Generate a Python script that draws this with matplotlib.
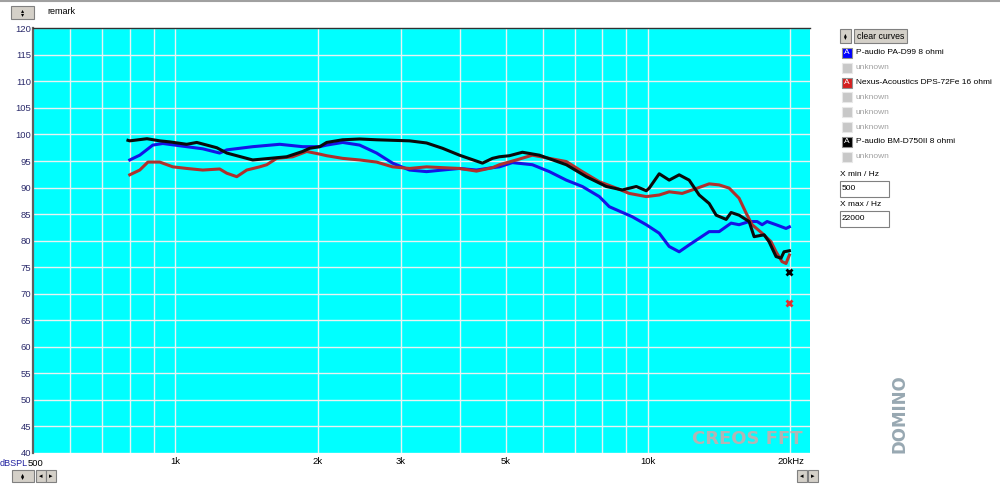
import matplotlib
matplotlib.use("Agg")
import matplotlib.pyplot as plt
from matplotlib.patches import Rectangle
from matplotlib.ticker import NullLocator

plt.rcParams['font.family'] = ['Liberation Sans', 'DejaVu Sans']

# P-audio PA-D99 8 ohm (blue)
pa_d99_hz = [801, 841, 896, 941, 1057, 1143, 1241, 1285, 1458, 1663, 1859, 2020,
             2090, 2259, 2454, 2665, 2881, 3129, 3399, 3674, 3990, 4335, 4686,
             4847, 5163, 5692, 6183, 6714, 7260, 7884, 8276, 9258, 9910, 10556,
             11082, 11634, 12214, 12824, 13463, 14133, 14982, 15573, 16356,
             17006, 17424, 17850, 18648, 19574, 19900]
pa_d99_db = [95.2, 96.1, 98.0, 98.3, 97.7, 97.3, 96.5, 97.1, 97.7, 98.15, 97.7, 97.7,
             98.0, 98.5, 98.0, 96.5, 94.6, 93.3, 93.0, 93.3, 93.6, 93.3, 93.75,
             93.9, 94.7, 94.3, 93.0, 91.4, 90.2, 88.3, 86.4, 84.5, 83.0, 81.4,
             78.9, 77.9, 79.2, 80.45, 81.7, 81.7, 83.3, 83.0, 83.6,
             83.6, 83.0, 83.6, 83.0, 82.3, 82.6]

# Nexus-Acoustics DPS-72Fe 16 ohm (red)
dps72_hz = [801, 841, 875, 927, 988, 1057, 1143, 1241, 1285, 1349, 1416, 1508,
            1561, 1638, 1771, 1896, 2020, 2090, 2259, 2454, 2665, 2881, 3129,
            3399, 3674, 3990, 4335, 4686, 4847, 5264, 5692, 6183, 6714, 7260,
            7884, 8563, 9119, 9910, 10556, 11082, 11806, 12394, 13463, 14133,
            14838, 15573, 16118, 16596, 17424, 18198, 18648, 19198, 19574, 19900]
dps72_db = [92.4, 93.3, 94.8, 94.8, 93.9, 93.6, 93.3, 93.5, 92.7, 92.05, 93.3, 93.9,
            94.3, 95.5, 95.8, 96.8, 96.3, 96.0, 95.5, 95.2, 94.8, 93.9, 93.6,
            93.9, 93.75, 93.6, 93.1, 93.75, 94.3, 95.2, 96.1, 95.5, 94.9, 93.0,
            91.1, 89.9, 88.9, 88.3, 88.6, 89.2, 88.9, 89.55, 90.7, 90.5,
            89.9, 88.0, 85.2, 83.0, 81.4, 79.8, 77.9, 76.05, 75.7, 77.3]

# P-audio BM-D750II 8 ohm (black)
bm_d750_hz = [794, 801, 871, 927, 974, 1057, 1110, 1166, 1224, 1285, 1349, 1458,
              1584, 1720, 1859, 1924, 2020, 2090, 2259, 2454, 2665, 3129, 3399,
              3674, 3990, 4463, 4686, 4847, 5088, 5422, 5889, 6714, 7402, 8159,
              8816, 9442, 9910, 10056, 10556, 11082, 11634, 12214, 12824, 13463,
              13929, 14625, 14982, 15573, 16356, 16758, 17595, 18023, 18648,
              19105, 19385, 19900]
bm_d750_db = [98.9, 98.8, 99.2, 98.8, 98.6, 98.15, 98.5, 98.0, 97.5, 96.5, 96.0, 95.2,
              95.5, 95.8, 96.8, 97.4, 97.7, 98.5, 99.0, 99.15, 99.0, 98.8, 98.4,
              97.4, 96.1, 94.6, 95.5, 95.8, 96.0, 96.65, 96.1, 94.3, 92.05, 90.2,
              89.55, 90.2, 89.4, 89.9, 92.6, 91.4, 92.4, 91.4, 88.6, 87.0,
              84.8, 84.0, 85.3, 84.8, 83.6, 80.75, 81.1, 79.8, 77.0,
              76.7, 77.9, 78.1]

# single-point markers at the right edge
marker_hz = 19900
black_marker_db = 74.1
red_marker_db = 68.3

x_ticks = [500, 1000, 2000, 3000, 5000, 10000, 20000]
x_tick_labels = ['500', '1k', '2k', '3k', '5k', '10k', '20kHz']
x_grid = [600, 700, 800, 900, 1000, 2000, 3000, 4000, 5000, 6000, 7000, 8000,
          9000, 10000, 20000]
y_ticks = list(range(40, 121, 5))

legend_rows = [('P-audio PA-D99 8 ohmi', '#0000ff'),
               ('unknown', None),
               ('Nexus-Acoustics DPS-72Fe 16 ohmi', '#d42020'),
               ('unknown', None),
               ('unknown', None),
               ('unknown', None),
               ('P-audio BM-D750II 8 ohmi', '#000000'),
               ('unknown', None)]

FS = 6.5
PFS = 6.0
W, H = 1000, 484
fig = plt.figure(figsize=(10, 4.84), dpi=100)
fig.patch.set_facecolor('white')


def fx(x):
    return x / W


def fy(y):
    return 1 - y / H


def button(x0, y0, x1, y1):
    fig.patches.append(Rectangle((fx(x0), fy(y1)), (x1 - x0) / W, (y1 - y0) / H,
                                 transform=fig.transFigure, facecolor='#d4d0c8',
                                 edgecolor='#808080', lw=0.8))


ax = fig.add_axes([fx(33), fy(453), (810 - 33) / W, (453 - 28.3) / H])
ax.set_facecolor('#00ffff')
ax.set_xscale('log')
ax.set_xlim(500, 22000)
ax.set_ylim(40, 120)

for g in x_grid:
    ax.axvline(g, color='#e8f2f2', lw=1, zorder=1)
for g in y_ticks:
    ax.axhline(g, color='#e8f2f2', lw=1, zorder=1)

ax.plot(pa_d99_hz, pa_d99_db, color='#1414e6', lw=2.2, zorder=3)
ax.plot(dps72_hz, dps72_db, color='#b0302c', lw=2.2, zorder=4)
ax.plot(bm_d750_hz, bm_d750_db, color='#0a0a0a', lw=2.2, zorder=5)
ax.plot([marker_hz], [black_marker_db], marker='x', color='black', ms=4.5, mew=2, zorder=6)
ax.plot([marker_hz], [red_marker_db], marker='x', color='#e03030', ms=4.5, mew=2, zorder=6)

# the 500 label is written next to "dBSPL" below, so leave its tick blank
ax.set_xticks(x_ticks)
ax.set_xticklabels([''] + x_tick_labels[1:])
ax.xaxis.set_minor_locator(NullLocator())
ax.set_yticks(y_ticks)
ax.tick_params(axis='x', length=0, pad=3, labelsize=FS + 0.3, labelcolor='black')
ax.tick_params(axis='y', length=0, pad=1.5, labelsize=FS + 0.3, labelcolor='#2c2c6c')

for side in ['right', 'bottom']:
    ax.spines[side].set_visible(False)
ax.spines['left'].set_color('#606060')
ax.spines['left'].set_linewidth(1.6)
ax.spines['top'].set_color('#303030')
ax.spines['top'].set_linewidth(1)

ax.text(0.99, 0.012, 'CREOS FFT', transform=ax.transAxes, ha='right', va='bottom',
        fontsize=13, fontweight='bold', color='#b4b4b4', family='DejaVu Sans')

fig.text(fx(27.5), fy(463), 'dBSPL', ha='right', va='center', fontsize=FS, color='#2020a0')
fig.text(fx(28), fy(463), x_tick_labels[0], ha='left', va='center', fontsize=FS + 0.3)

# top bar
fig.add_artist(plt.Line2D([0, 1], [fy(1), fy(1)], color='#a0a0a0', lw=1.5))
button(11, 6, 34, 19)
fig.text(fx(22.5), fy(12.5), '\u25b4\n\u25be', ha='center', va='center', fontsize=4.5,
         linespacing=0.6, family='DejaVu Sans')
fig.text(fx(47), fy(12), 'remark', ha='left', va='center', fontsize=FS)

# bottom buttons
button(12, 470, 34, 482)
fig.text(fx(23), fy(476), '\u25b4\n\u25be', ha='center', va='center', fontsize=4.5,
         linespacing=0.6, family='DejaVu Sans')
for bx, glyph in [(36, '\u25c2'), (46, '\u25b8'), (797, '\u25c2'), (808, '\u25b8')]:
    button(bx, 470, bx + 10, 482)
    fig.text(fx(bx + 5), fy(476), glyph, ha='center', va='center', fontsize=5,
             family='DejaVu Sans')

# right panel
button(840, 29, 851, 43)
fig.text(fx(845.5), fy(36), '\u25b4\n\u25be', ha='center', va='center', fontsize=4,
         linespacing=0.6, family='DejaVu Sans')
button(854, 29, 907, 43)
fig.text(fx(880.5), fy(36.5), 'clear curves', ha='center', va='center', fontsize=PFS + 0.3)

for i, (name, col) in enumerate(legend_rows):
    cy = 53 + 14.8 * i
    if col is None:
        fig.patches.append(Rectangle((fx(842), fy(cy + 5)), 10 / W, 10 / H,
                                     transform=fig.transFigure, facecolor='#c8c8c8',
                                     edgecolor='#e8e8e8', lw=0.8))
        fig.text(fx(856), fy(cy), name, ha='left', va='center', fontsize=PFS, color='#a0a0a0')
    else:
        fig.patches.append(Rectangle((fx(842), fy(cy + 5)), 10 / W, 10 / H,
                                     transform=fig.transFigure, facecolor=col,
                                     edgecolor='#909090', lw=0.8))
        fig.text(fx(847), fy(cy), 'A', ha='center', va='center', fontsize=6, color='white')
        fig.text(fx(856), fy(cy), name, ha='left', va='center', fontsize=PFS, color='black')

fig.text(fx(840), fy(175), 'X min / Hz', ha='left', va='center', fontsize=PFS)
fig.patches.append(Rectangle((fx(840), fy(197)), 49 / W, 16 / H, transform=fig.transFigure,
                             facecolor='white', edgecolor='#808080', lw=0.8))
fig.text(fx(842), fy(189), '500', ha='left', va='center', fontsize=PFS)
fig.text(fx(840), fy(205), 'X max / Hz', ha='left', va='center', fontsize=PFS)
fig.patches.append(Rectangle((fx(840), fy(227)), 49 / W, 16 / H, transform=fig.transFigure,
                             facecolor='white', edgecolor='#808080', lw=0.8))
fig.text(fx(842), fy(219), '22000', ha='left', va='center', fontsize=PFS)

fig.text(fx(900), fy(414), 'DOMINO', ha='center', va='center', rotation=90,
         fontsize=12, fontweight='bold', color='#98a8b2', family='DejaVu Sans')

fig.savefig('out.png', dpi=100)
